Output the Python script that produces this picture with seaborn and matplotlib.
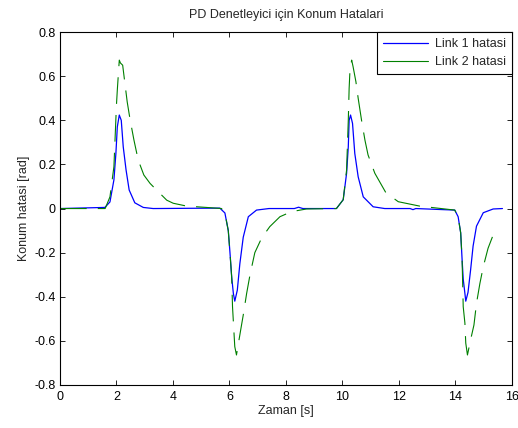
import numpy as np
import pandas as pd
import matplotlib
matplotlib.use("Agg")
import matplotlib.pyplot as plt
import seaborn as sns
from matplotlib.lines import Line2D

# Link 1 hatasi (mavi)
t1 = [0.0, 1.59, 1.77, 1.91, 1.98, 2.03, 2.10, 2.17, 2.24, 2.34, 2.45, 2.65, 2.95, 3.3,
      5.66, 5.84, 5.96, 6.02, 6.08, 6.14, 6.19, 6.28, 6.37, 6.49, 6.67, 6.96, 7.4,
      8.3, 8.45, 8.6, 9.79, 10.03, 10.15, 10.21, 10.24, 10.29, 10.36, 10.44, 10.56,
      10.74, 11.09, 11.5, 12.4, 12.5, 12.6, 13.98, 14.1, 14.19, 14.24, 14.28, 14.34,
      14.37, 14.45, 14.54, 14.63, 14.75, 14.99, 15.34, 15.67]
e1 = [0.0, 0.005, 0.03, 0.13, 0.25, 0.37, 0.424, 0.40, 0.28, 0.175, 0.084, 0.026, 0.005, 0.0,
      0.002, -0.02, -0.10, -0.20, -0.31, -0.385, -0.42, -0.37, -0.25, -0.13, -0.037, -0.007, 0.0,
      0.0, 0.006, 0.0, 0.0, 0.04, 0.16, 0.28, 0.40, 0.424, 0.386, 0.25, 0.144,
      0.053, 0.008, 0.0, 0.0, -0.005, 0.0, -0.007, -0.037, -0.11, -0.23, -0.32, -0.385,
      -0.42, -0.38, -0.28, -0.17, -0.08, -0.019, -0.002, 0.0]

# Link 2 hatasi (yesil)
t2 = [0.0, 1.6, 1.77, 1.91, 2.0, 2.03, 2.10, 2.14, 2.22, 2.30, 2.38, 2.48, 2.62, 2.77, 2.97,
      3.19, 3.42, 3.78, 4.01, 4.49, 5.19, 5.72, 5.84, 5.96, 6.02, 6.08, 6.11, 6.19, 6.25,
      6.40, 6.49, 6.61, 6.73, 6.90, 7.14, 7.43, 7.79, 8.2, 8.73, 9.79, 10.03, 10.15,
      10.21, 10.24, 10.27, 10.33, 10.38, 10.48, 10.56, 10.68, 10.80, 10.91, 11.15, 11.54,
      11.98, 12.74, 13.5, 13.98, 14.1, 14.19, 14.24, 14.28, 14.34, 14.37, 14.43, 14.54,
      14.66, 14.75, 14.87, 14.99, 15.16, 15.34, 15.49]
e2 = [0.0, 0.0, 0.053, 0.19, 0.47, 0.537, 0.673, 0.66, 0.65, 0.567, 0.484, 0.405, 0.31, 0.22, 0.152,
      0.114, 0.084, 0.038, 0.024, 0.011, 0.005, 0.0, -0.02, -0.10, -0.20, -0.31, -0.445, -0.626, -0.664,
      -0.55, -0.483, -0.385, -0.30, -0.20, -0.134, -0.082, -0.037, -0.014, -0.002, 0.0, 0.04, 0.175,
      0.40, 0.545, 0.628, 0.673, 0.643, 0.575, 0.50, 0.40, 0.31, 0.243, 0.16, 0.072,
      0.031, 0.011, 0.0, -0.007, -0.037, -0.11, -0.23, -0.445, -0.52, -0.61, -0.664, -0.596,
      -0.528, -0.43, -0.34, -0.264, -0.18, -0.12, -0.09]

xticks = [0, 2, 4, 6, 8, 10, 12, 14, 16]
yticks = [-0.8, -0.6, -0.4, -0.2, 0, 0.2, 0.4, 0.6, 0.8]
ylabels = ["-0.8", "-0.6", "-0.4", "-0.2", "0", "0.2", "0.4", "0.6", "0.8"]

sns.set_style("ticks")
plt.rcParams['font.family'] = ['Liberation Sans', 'DejaVu Sans']
plt.rcParams['font.size'] = 9
plt.rcParams['xtick.direction'] = 'in'
plt.rcParams['ytick.direction'] = 'in'

fig = plt.figure(figsize=(5.18, 4.28), dpi=100)
ax = fig.add_axes([0.1158, 0.1005, 0.8722, 0.8245])

blue = (0, 0, 1)
green = (0, 0.5, 0)
sns.lineplot(x=t1, y=e1, ax=ax, color=blue, linewidth=0.9, sort=False)
line2 = sns.lineplot(x=t2, y=e2, ax=ax, color=green, linewidth=0.8, sort=False).lines[-1]
line2.set_dashes([24, 10])

ax.set_xlim(0, 16)
ax.set_ylim(-0.8, 0.8)
ax.set_xticks(xticks)
ax.set_xticklabels([str(v) for v in xticks])
ax.set_yticks(yticks)
ax.set_yticklabels(ylabels)
ax.tick_params(top=True, right=True, length=3.5, width=0.6, labelsize=9, colors='black')
ax.tick_params(axis='x', pad=4)
ax.tick_params(axis='y', pad=3)
for s in ax.spines.values():
    s.set_visible(True)
    s.set_linewidth(0.8)
    s.set_color('black')

ax.set_title('PD Denetleyici için Konum Hatalari', fontsize=9, pad=10)
ax.set_xlabel('Zaman [s]', fontsize=9, labelpad=2)
ax.set_ylabel('Konum hatasi [rad]', fontsize=9, labelpad=3)

handles = [Line2D([], [], color=blue, lw=0.9), Line2D([], [], color=green, lw=0.8)]
leg = ax.legend(handles, ['Link 1 hatasi', 'Link 2 hatasi'], loc='upper right',
                borderaxespad=0, fancybox=False, framealpha=1, edgecolor='black',
                handlelength=3.6, handletextpad=0.5, fontsize=9, borderpad=0.5,
                labelspacing=0.45)
leg.get_frame().set_linewidth(0.8)

fig.savefig('out.png', dpi=100)
